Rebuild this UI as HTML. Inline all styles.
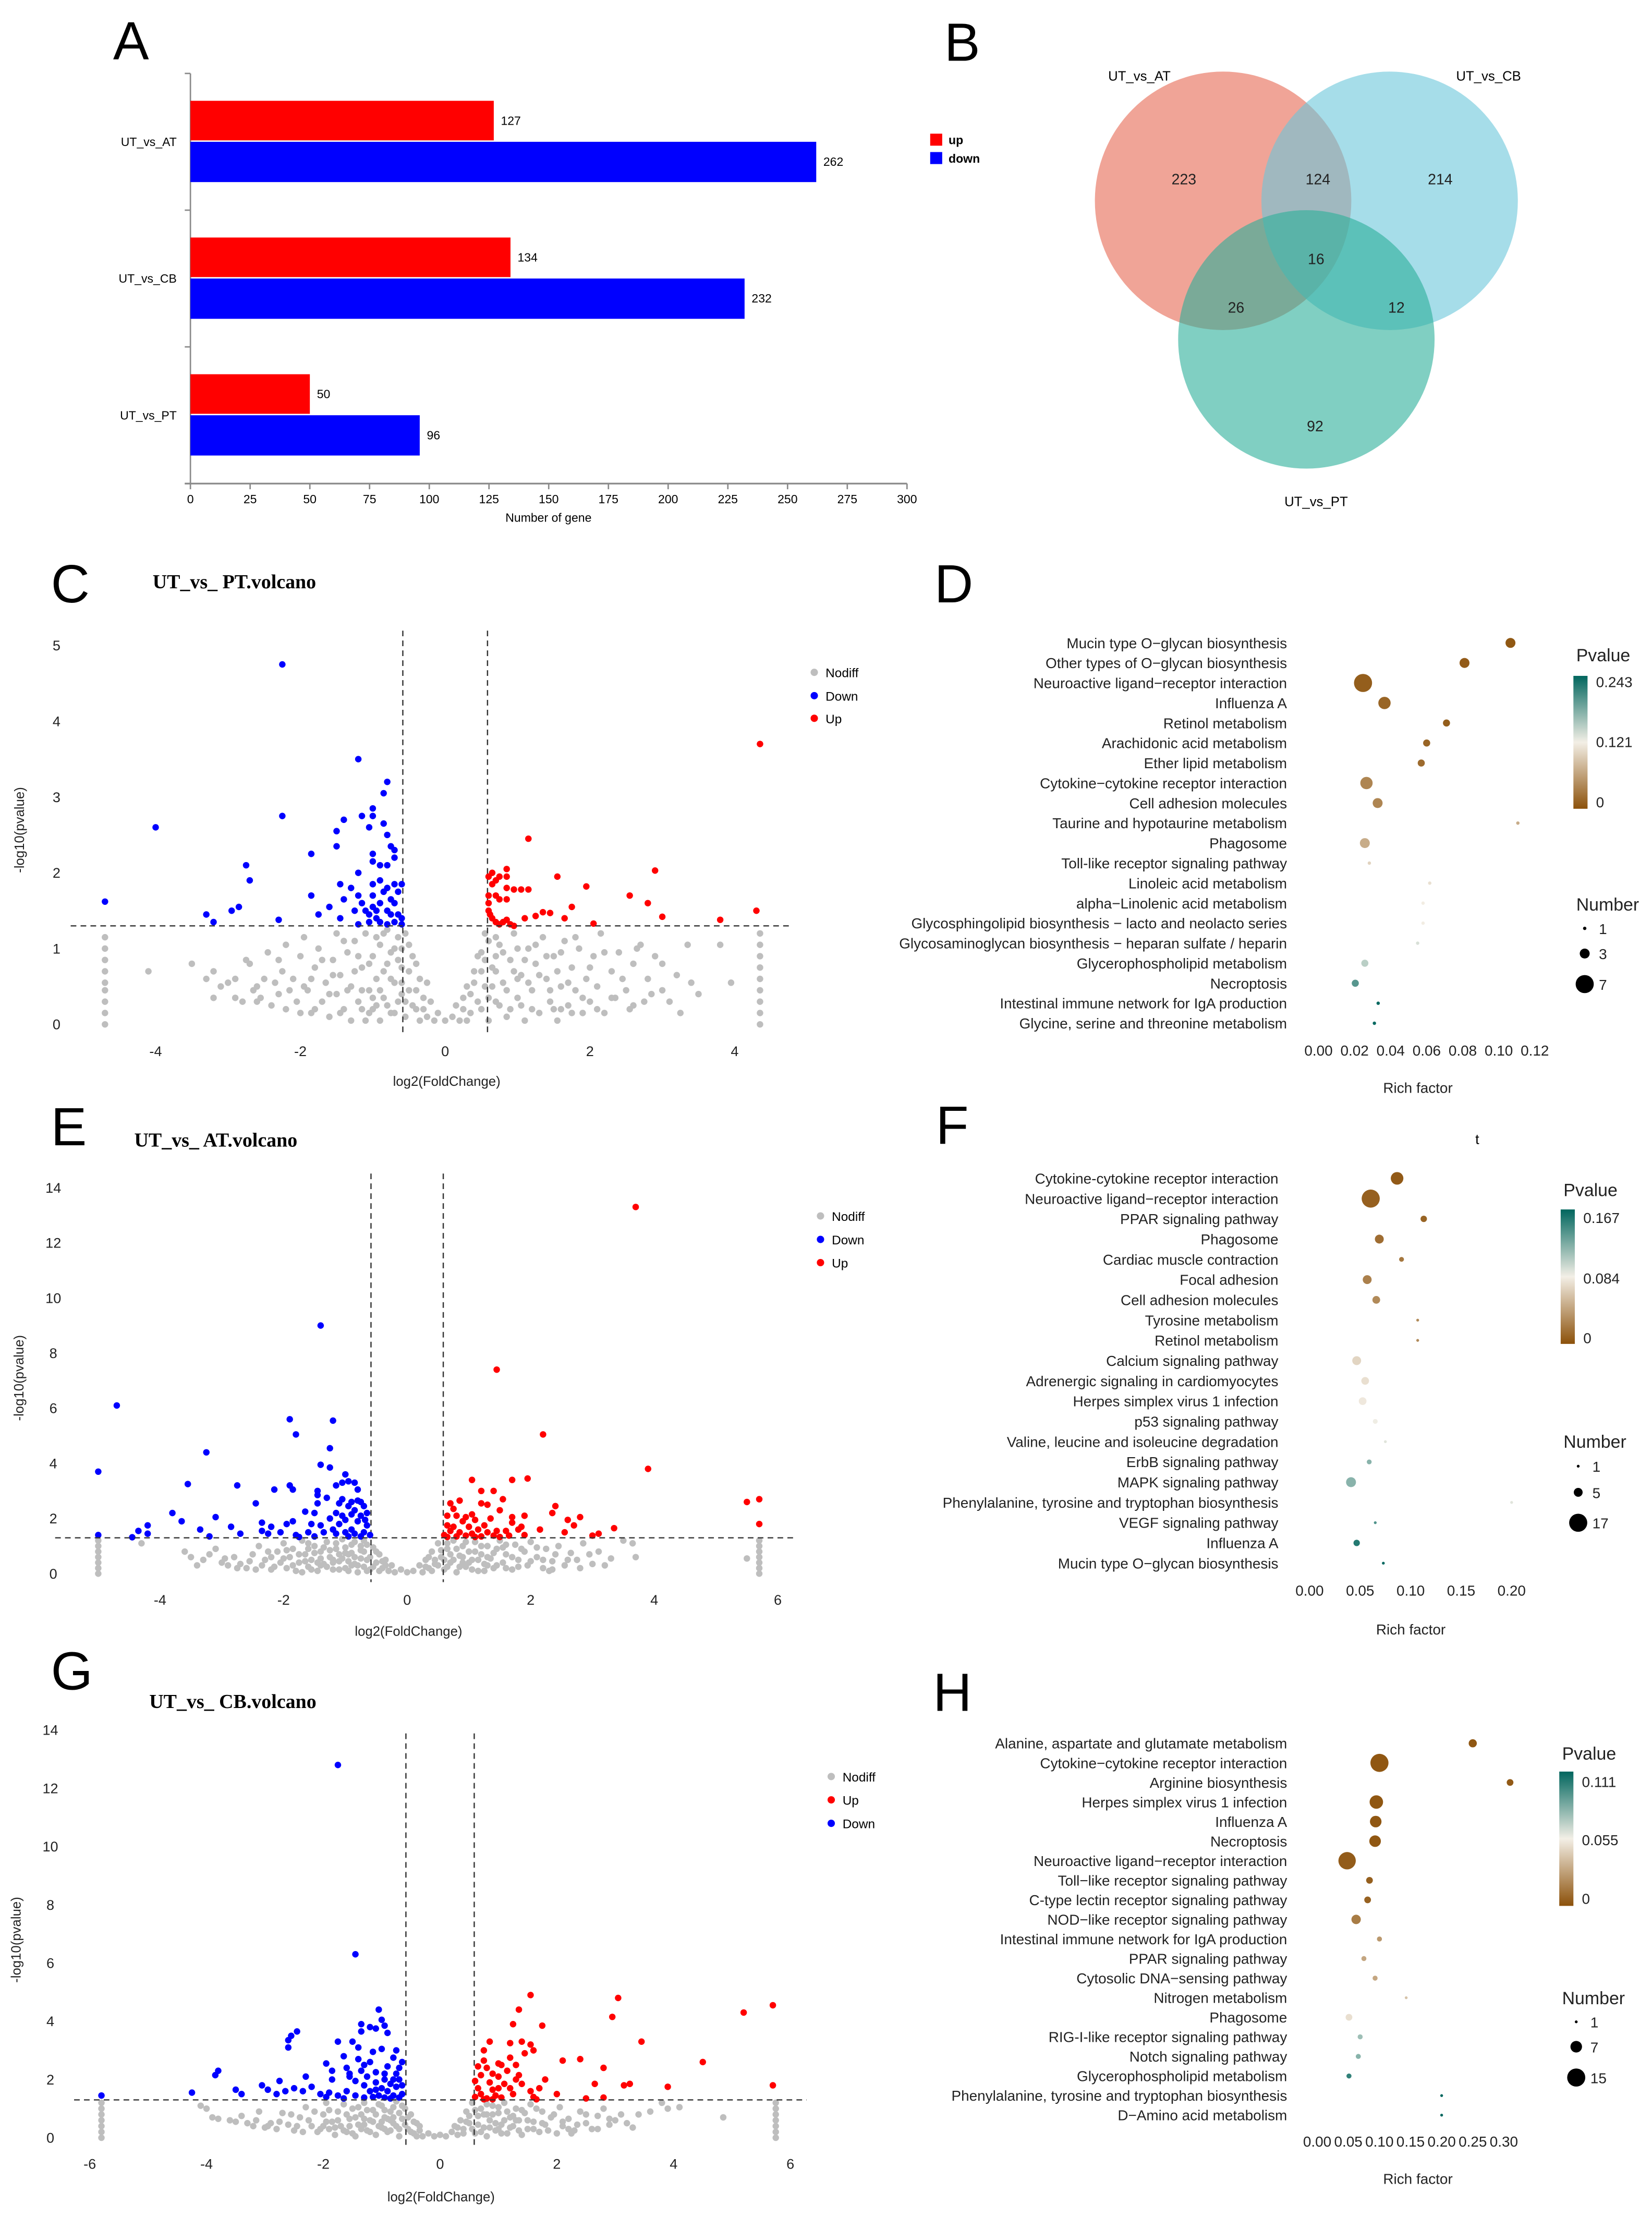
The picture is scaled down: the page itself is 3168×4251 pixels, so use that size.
<!DOCTYPE html>
<html><head><meta charset="utf-8"><title>Figure</title>
<style>
html,body{margin:0;padding:0;background:#fff;}
svg{display:block;}
</style></head>
<body>
<svg id="fig" xmlns="http://www.w3.org/2000/svg" width="3168" height="4251" viewBox="0 0 1168.6 1568" font-family="Liberation Sans, sans-serif">
<defs>
<linearGradient id="pg" x1="0" y1="0" x2="0" y2="1">
<stop offset="0" stop-color="#01665e"/><stop offset="0.5" stop-color="#f3efe6"/><stop offset="1" stop-color="#8c510a"/>
</linearGradient>
</defs>
<rect width="1168.6" height="1568" fill="#fff"/>
</svg>
<script>
// ---------- DATA ----------
const barCats = ['UT_vs_AT','UT_vs_CB','UT_vs_PT'];
const barUp = [127,134,50];
const barDown = [262,232,96];
const barTicks = [0,25,50,75,100,125,150,175,200,225,250,275,300];

const vennLabels = ['UT_vs_AT','UT_vs_CB','UT_vs_PT'];
const vennCounts = [223,124,214,16,26,12,92];

const cGrey = [-3.3,0.6,-3.2,0.7,-3.1,0.5,-3,0.55,-2.9,0.35,-2.8,0.3,-2.75,0.85,-2.7,0.8,-2.6,0.3,-2.5,0.6,-2.45,0.95,-2.4,0.25,-2.3,0.4,-2.3,0.85,-2.2,1.05,-2.2,0.2,-2.1,0.6,-2.05,0.3,-2,0.9,-1.95,1.15,-1.9,0.45,-1.85,0.15,-1.8,0.75,-1.75,1.0,-1.7,0.3,-1.65,0.55,-1.6,0.1,-1.55,0.85,-1.5,1.2,-1.5,0.4,-1.45,0.65,-1.4,0.2,-1.35,0.95,-1.3,0.05,-1.3,0.5,-1.25,1.1,-1.2,0.3,-1.15,0.75,-1.1,0.05,-1.1,1.2,-1.05,0.45,-1,0.9,-1,0.2,-0.95,0.6,-0.9,1.05,-0.9,0.05,-0.85,0.35,-0.8,0.8,-0.8,1.25,-0.75,0.15,-0.7,0.55,-0.7,1.0,-0.65,0.3,-0.6,0.75,-0.55,1.2,-0.55,0.1,-0.5,0.45,-0.45,0.9,-0.4,0.2,-0.35,0.6,-0.3,0.35,-0.25,0.1,-0.2,0.3,-0.15,0.05,-0.1,0.15,0,0.05,0.1,0.1,0.15,0.25,0.2,0.05,0.25,0.35,0.3,0.5,0.35,0.15,0.4,0.7,0.45,0.3,0.5,0.95,0.55,0.5,0.55,1.2,0.6,0.05,0.65,0.75,0.7,0.3,0.75,1.05,0.8,0.55,0.85,0.1,0.9,0.85,0.95,1.2,1,0.35,1.05,0.65,1.1,0.05,1.15,1.0,1.2,0.45,1.25,0.8,1.3,0.15,1.35,1.15,1.4,0.6,1.45,0.3,1.5,0.9,1.55,0.05,1.6,0.5,1.65,1.1,1.7,0.25,1.75,0.75,1.8,0.45,1.85,1.0,1.9,0.15,1.95,0.6,2,0.3,2.05,0.9,2.1,0.5,2.15,1.2,2.2,0.15,2.3,0.7,2.35,0.35,2.4,0.95,2.5,0.45,2.55,0.2,2.6,0.8,2.7,1.05,2.75,0.3,2.8,0.6,2.9,0.9,3,0.45,3.1,0.3,3.2,0.65,3.35,1.05,3.5,0.4,3.8,1.05,3.95,0.55,-4.1,0.7,-3.5,0.8,-3.2,0.35,-1.15,0.2,-0.95,0.25,-0.6,0.4,0.7,0.9,1.0,0.6,1.6,0.2,-1.8,0.2,-2.6,0.5,
-4.7,0,-4.7,0.15,-4.7,0.3,-4.7,0.45,-4.7,0.55,-4.7,0.7,-4.7,0.85,-4.7,1.0,-4.7,1.15,4.35,0,4.35,0.15,4.35,0.3,4.35,0.45,4.35,0.6,4.35,0.75,4.35,0.9,4.35,1.05,4.35,1.2,
-2.9,0.6,-2.65,0.45,-2.55,0.35,-2.35,0.55,-2.25,0.7,-2.15,0.45,-2.0,0.15,-1.95,0.5,-1.85,0.6,-1.7,0.85,-1.6,0.4,-1.55,0.65,-1.45,0.15,-1.4,1.1,-1.35,0.45,-1.25,0.7,-1.2,0.9,-1.15,0.45,-1.05,0.15,-1.05,0.8,-1.0,0.35,-0.95,1.15,-0.9,0.45,-0.85,0.7,-0.85,1.2,-0.8,0.25,-0.75,0.6,-0.75,0.95,-0.7,0.15,-0.65,0.85,-0.65,1.15,-0.6,0.55,-0.6,1.0,-0.55,0.3,-0.5,0.7,-0.5,1.05,-0.45,0.25,-0.4,0.45,-0.4,0.8,-0.35,0.05,-0.3,0.2,-0.25,0.55,0.25,0.2,0.3,0.05,0.35,0.4,0.4,0.55,0.45,0.9,0.5,0.2,0.5,0.7,0.55,0.85,0.6,0.35,0.6,1.1,0.65,0.5,0.7,0.7,0.7,1.15,0.75,0.25,0.8,0.95,0.85,0.45,0.9,0.2,0.95,0.7,1.0,1.0,1.05,0.25,1.1,0.85,1.15,0.55,1.2,0.2,1.25,1.05,1.3,0.65,1.4,0.9,1.45,0.45,1.5,0.2,1.55,0.7,1.6,0.95,1.7,0.55,1.75,0.15,1.8,1.15,1.9,0.35,2.0,0.75,2.1,0.2,2.2,0.95,2.3,0.35,2.45,0.6,2.6,0.25,2.65,1.0,2.85,0.4,3.0,0.8,3.25,0.15,3.4,0.55];
const cDown = [-2.25,4.75,-1.2,3.5,-0.8,3.2,-0.85,3.05,-1,2.85,-1.15,2.75,-1,2.75,-0.85,2.65,-1.4,2.7,-1.05,2.6,-1.5,2.55,-0.8,2.5,-2.25,2.75,-4,2.6,-1.5,2.35,-0.75,2.35,-0.7,2.3,-1.85,2.25,-1,2.25,-0.7,2.2,-1,2.15,-0.9,2.1,-0.8,2.1,-2.75,2.1,-1.2,2,-2.7,1.9,-0.9,1.9,-1,1.85,-0.7,1.85,-0.6,1.85,-1.45,1.85,-1.3,1.8,-0.8,1.8,-1.2,1.7,-1,1.7,-0.85,1.75,-0.65,1.75,-1.85,1.7,-1.4,1.65,-0.75,1.65,-1.15,1.6,-0.9,1.6,-0.7,1.6,-1.6,1.55,-1,1.55,-0.8,1.5,-2.85,1.55,-2.95,1.5,-1.25,1.5,-1.05,1.45,-0.75,1.45,-0.65,1.45,-3.3,1.45,-1.75,1.45,-1.45,1.4,-0.95,1.4,-0.6,1.4,-3.2,1.35,-2.3,1.38,-0.9,1.35,-1.2,1.32,-0.8,1.32,-0.7,1.35,-4.7,1.62,-0.6,1.32,-1.05,1.35,-1.1,1.5,-0.95,1.5];
const cUp = [4.35,3.7,1.15,2.45,0.85,2.05,0.65,2.0,0.6,1.95,0.75,1.95,0.85,1.95,0.7,1.9,2.9,2.03,1.55,1.95,0.65,1.85,0.85,1.8,0.95,1.78,1.05,1.78,1.15,1.78,1.95,1.82,0.6,1.7,0.7,1.7,0.75,1.65,0.85,1.65,2.55,1.7,0.6,1.6,2.8,1.6,1.75,1.55,0.6,1.5,1.35,1.48,1.45,1.47,0.62,1.45,1.25,1.43,0.65,1.4,1.1,1.4,1.65,1.4,3,1.42,0.7,1.35,0.8,1.35,0.85,1.38,0.75,1.32,0.9,1.32,2.05,1.33,3.8,1.38,4.3,1.5,0.95,1.3];

const eGrey = [-4.3,1.1,-3.6,0.8,-3.5,0.6,-3.3,0.5,-3.1,0.9,-3,0.4,-2.9,0.3,-2.8,0.6,-2.7,0.35,-2.6,0.2,-2.5,0.7,-2.4,1.0,-2.35,0.3,-2.3,0.5,-2.2,0.15,-2.1,0.8,-2.05,0.4,-2,1.1,-1.95,0.2,-1.9,0.6,-1.85,0.9,-1.8,0.1,-1.75,0.4,-1.7,1.2,-1.65,0.7,-1.6,0.25,-1.55,0.5,-1.5,1.0,-1.45,0.1,-1.4,0.8,-1.35,0.35,-1.3,1.15,-1.25,0.6,-1.2,0.15,-1.15,0.9,-1.1,0.45,-1.05,1.25,-1,0.2,-0.95,0.7,-0.9,1.05,-0.85,0.35,-0.8,0.05,-0.75,0.85,-0.7,1.2,-0.65,0.5,-0.6,0.15,-0.55,0.95,-0.5,0.4,-0.45,0.7,-0.4,0.2,-0.35,0.5,-0.3,0.1,-0.25,0.3,-0.2,0.05,-0.1,0.15,0,0.05,0.1,0.1,0.2,0.3,0.25,0.05,0.3,0.5,0.35,0.2,0.4,0.8,0.45,0.35,0.5,1.1,0.55,0.6,0.6,0.15,0.65,0.9,0.7,0.4,0.75,1.2,0.8,0.05,0.85,0.65,0.9,1.0,0.95,0.25,1,0.8,1.05,0.5,1.1,1.15,1.15,0.1,1.2,0.7,1.25,0.35,1.3,1.0,1.35,0.55,1.4,0.2,1.45,0.9,1.5,1.2,1.55,0.4,1.6,0.7,1.7,0.15,1.75,1.05,1.8,0.5,1.9,0.8,1.95,0.3,2,1.15,2.1,0.6,2.2,0.2,2.25,0.9,2.35,0.45,2.45,1.0,2.55,0.3,2.65,0.75,2.75,0.5,2.85,1.1,3,0.35,3.1,0.8,3.3,0.55,3.5,1.2,3.65,1.1,3.7,0.6,5.5,0.55,-1.6,0.9,-1.2,0.5,-0.9,0.3,-1.0,0.75,0.9,0.4,1.3,0.3,1.6,1.05,2.3,0.1,-2.2,0.6,-1.4,0.3,
-5,0,-5,0.2,-5,0.4,-5,0.6,-5,0.8,-5,1.0,-5,1.2,5.7,0,5.7,0.2,5.7,0.4,5.7,0.6,5.7,0.8,5.7,1.0,5.7,1.2,
-3.4,0.3,-3.2,0.7,-2.95,0.55,-2.75,0.2,-2.55,0.45,-2.45,0.15,-2.25,0.8,-2.15,0.25,-2.0,0.55,-1.95,0.85,-1.85,0.3,-1.75,0.7,-1.7,0.05,-1.65,0.45,-1.6,1.1,-1.55,0.15,-1.5,0.75,-1.45,0.4,-1.4,0.55,-1.35,0.95,-1.3,0.25,-1.25,0.85,-1.2,0.4,-1.15,1.1,-1.1,0.15,-1.1,0.7,-1.05,0.55,-1.0,0.95,-0.95,0.1,-0.95,0.45,-0.9,0.75,-0.85,1.15,-0.85,0.6,-0.8,0.3,-0.75,0.55,-0.75,1.0,-0.7,0.25,-0.7,0.8,-0.65,0.1,-0.65,1.05,-0.6,0.6,-0.55,0.25,-0.5,0.8,-0.45,0.1,-0.4,0.45,-0.35,0.3,0.3,0.25,0.35,0.6,0.4,0.1,0.45,0.5,0.5,0.3,0.55,0.85,0.6,0.5,0.65,0.25,0.65,1.1,0.7,0.7,0.75,0.5,0.8,0.9,0.85,0.25,0.9,0.6,0.95,1.15,1.0,0.4,1.05,0.15,1.1,0.8,1.15,0.5,1.2,1.0,1.25,0.1,1.3,0.6,1.4,0.75,1.45,0.3,1.55,0.95,1.6,0.2,1.7,0.6,1.8,0.25,1.85,0.9,2.0,0.45,2.1,0.95,2.2,0.5,2.35,0.15,2.4,0.7,2.6,0.5,2.8,0.2,2.95,0.7,3.2,0.3];
const eDown = [-1.4,9,-4.7,6.1,-1.9,5.6,-1.2,5.55,-1.8,5.05,-1.25,4.55,-3.25,4.4,-1.4,3.95,-1.25,3.85,-5,3.7,-1,3.6,-0.95,3.35,-1.05,3.3,-0.85,3.3,-1.15,3.2,-3.55,3.25,-2.75,3.2,-1.9,3.2,-1.85,3.05,-2.15,3.05,-0.8,3.05,-1.45,3,-1.45,2.85,-1.3,2.75,-1.05,2.7,-0.8,2.65,-0.75,2.6,-1.1,2.55,-0.95,2.45,-1.45,2.55,-2.45,2.55,-0.7,2.45,-0.85,2.3,-1.65,2.25,-1.5,2.2,-3.8,2.2,-1.15,2.2,-0.9,2.15,-0.75,2.1,-3.1,2.05,-1.25,2,-1.85,1.9,-3.65,1.9,-1.0,1.95,-0.8,1.9,-2.35,1.85,-1.95,1.8,-1.55,1.8,-1.4,1.75,-1.1,1.8,-0.65,1.75,-4.2,1.75,-2.85,1.7,-2.2,1.7,-3.35,1.6,-1.2,1.6,-0.9,1.6,-4.35,1.55,-2.05,1.5,-1.6,1.5,-1.35,1.5,-1,1.5,-0.7,1.5,-2.25,1.45,-2.7,1.45,-4.2,1.45,-1.8,1.4,-1.15,1.45,-0.85,1.45,-5,1.4,-3.2,1.35,-4.45,1.32,-1.75,1.33,-1.5,1.35,-0.95,1.35,-0.75,1.35,-0.6,1.4,-0.65,2.2,-0.68,1.95,-1.05,2.1,-0.9,2.6,-2.35,1.55];
const eUp = [3.7,13.3,1.45,7.4,2.2,5.05,3.9,3.8,1.95,3.45,1.7,3.4,1.05,3.4,1.4,3,1.2,3,5.7,2.7,5.5,2.6,1.55,2.7,0.85,2.65,0.7,2.55,1.2,2.55,1.3,2.5,2.4,2.45,0.75,2.35,1.5,2.3,0.65,2.1,0.8,2.1,0.95,2.05,1.05,2.15,0.9,1.9,1.1,1.95,1.35,2.0,1.7,2.05,1.9,2.1,2.35,2.2,2.8,2.05,2.6,1.95,1.7,1.85,5.7,1.8,0.65,1.75,0.75,1.7,1.0,1.7,1.25,1.75,1.85,1.7,2.7,1.75,1.15,1.6,1.45,1.55,2.15,1.6,3.35,1.65,0.7,1.55,0.85,1.5,1.05,1.45,1.3,1.5,1.6,1.55,1.8,1.6,2.55,1.5,3.1,1.45,0.6,1.4,0.8,1.35,0.95,1.38,1.2,1.35,1.4,1.38,1.65,1.38,1.9,1.4,3.0,1.38,1.5,1.33,0.65,1.33,1.1,1.33];

const gGrey = [-4.1,1.1,-4,1.0,-3.9,0.7,-3.8,0.65,-3.6,0.6,-3.5,0.55,-3.3,0.5,-3.2,0.4,-3.1,0.9,-3,0.35,-2.9,0.5,-2.8,0.3,-2.7,0.85,-2.6,0.45,-2.5,0.25,-2.4,0.7,-2.3,1.05,-2.2,0.4,-2.1,0.2,-2,0.8,-1.95,1.2,-1.9,0.3,-1.85,0.55,-1.8,0.1,-1.75,0.9,-1.7,0.4,-1.65,1.15,-1.6,0.2,-1.55,0.65,-1.5,1.0,-1.45,0.05,-1.4,0.45,-1.35,0.8,-1.3,1.2,-1.25,0.25,-1.2,0.6,-1.15,0.95,-1.1,0.1,-1.05,0.4,-1,1.1,-0.95,0.7,-0.9,0.2,-0.85,0.9,-0.8,0.5,-0.75,1.25,-0.7,0.05,-0.65,0.65,-0.6,1.0,-0.55,0.3,-0.5,0.8,-0.45,0.15,-0.4,0.5,-0.35,0.25,-0.3,0.05,-0.2,0.15,-0.1,0.05,0,0.1,0.1,0.05,0.2,0.2,0.25,0.4,0.3,0.1,0.35,0.6,0.4,0.3,0.45,0.9,0.5,0.5,0.55,1.2,0.6,0.15,0.65,0.75,0.7,1.0,0.75,0.35,0.8,0.05,0.85,0.6,0.9,1.1,0.95,0.25,1,0.85,1.05,0.45,1.1,1.2,1.15,0.15,1.2,0.7,1.25,0.4,1.3,1.0,1.35,0.6,1.4,0.1,1.45,0.85,1.5,0.3,1.55,1.15,1.6,0.55,1.7,0.2,1.75,0.9,1.8,0.45,1.9,0.7,2,0.15,2.05,1.05,2.1,0.4,2.2,0.65,2.3,0.25,2.4,0.9,2.5,0.5,2.6,0.3,2.7,0.75,2.8,1.0,2.9,0.45,3,0.6,3.3,0.35,3.4,0.8,3.6,0.9,3.8,1.2,3.9,1.0,4.1,1.05,4.85,0.7,-1.3,0.45,-1.0,0.35,-0.85,0.6,-2.0,0.4,1.0,0.3,1.3,0.6,0.8,0.8,2.2,0.3,
-5.8,0,-5.8,0.2,-5.8,0.4,-5.8,0.6,-5.8,0.8,-5.8,1.0,-5.8,1.2,5.75,0,5.75,0.2,5.75,0.4,5.75,0.6,5.75,0.8,5.75,1.0,5.75,1.2,
-3.4,0.75,-3.15,0.6,-2.95,0.4,-2.75,0.55,-2.55,0.8,-2.45,0.4,-2.35,0.2,-2.25,0.6,-2.15,0.9,-2.05,0.3,-1.95,0.55,-1.9,0.95,-1.8,0.35,-1.75,0.6,-1.65,0.25,-1.6,0.8,-1.55,0.4,-1.5,0.15,-1.45,0.7,-1.4,1.05,-1.35,0.3,-1.3,0.65,-1.25,0.95,-1.2,0.2,-1.15,0.55,-1.1,0.8,-1.05,1.15,-1.0,0.55,-0.95,0.3,-0.95,0.95,-0.9,0.65,-0.85,0.25,-0.8,1.05,-0.8,0.7,-0.75,0.4,-0.7,0.85,-0.7,0.3,-0.65,1.1,-0.6,0.45,-0.55,0.7,-0.5,0.2,-0.45,0.55,-0.4,0.05,-0.35,0.4,0.3,0.35,0.4,0.15,0.45,0.55,0.5,0.75,0.55,0.3,0.6,0.95,0.65,0.45,0.7,0.2,0.75,0.8,0.8,1.15,0.85,0.35,0.9,0.8,0.95,0.5,1.0,1.05,1.05,0.15,1.1,0.6,1.15,0.9,1.2,0.35,1.25,0.75,1.35,0.25,1.4,0.95,1.5,0.6,1.6,0.3,1.65,1.0,1.75,0.5,1.85,0.25,1.95,0.8,2.1,0.55,2.25,0.15,2.35,0.45,2.5,0.8,2.7,0.3,2.9,0.65,3.1,0.8,3.2,0.5];
const gDown = [-1.75,12.8,-1.45,6.3,-1.05,4.4,-1,4.05,-0.95,3.85,-1.35,3.9,-1.2,3.8,-1.1,3.75,-0.9,3.6,-1.35,3.65,-2.45,3.65,-2.55,3.5,-2.6,3.35,-2.6,3.1,-1.75,3.3,-1.5,3.3,-1.4,3.1,-1.0,3.05,-0.75,3.0,-1.15,2.95,-0.8,2.75,-1.65,2.8,-1.4,2.7,-1.2,2.6,-0.65,2.6,-1.95,2.55,-0.9,2.45,-1.6,2.4,-1.35,2.3,-1.85,2.3,-1.1,2.25,-0.75,2.2,-3.8,2.3,-3.85,2.15,-1.55,2.1,-1.25,2.1,-0.95,2.0,-0.7,2.0,-2.75,1.95,-1.85,2.0,-2.3,2.1,-1.45,1.95,-1.1,1.9,-0.85,1.85,-2.2,1.75,-3.05,1.8,-2.95,1.65,-2.5,1.7,-1.3,1.8,-1.0,1.7,-0.75,1.75,-0.65,1.8,-2.65,1.6,-2.35,1.6,-1.9,1.55,-1.6,1.6,-1.2,1.6,-0.9,1.6,-3.5,1.65,-3.4,1.5,-4.25,1.55,-2.8,1.5,-2.05,1.5,-1.75,1.45,-1.45,1.45,-1.05,1.45,-0.8,1.45,-0.65,1.5,-5.8,1.45,-1.95,1.4,-1.65,1.35,-1.3,1.38,-0.95,1.38,-0.7,1.38,-1.15,1.4,-0.85,1.35,-1.55,2.2,-1.3,2.5,-0.95,2.2,-0.7,2.4,-1.1,1.65,-0.8,2.0];
const gUp = [1.55,4.9,3.05,4.8,5.7,4.55,5.2,4.3,1.35,4.4,2.95,4.15,1.25,3.9,1.75,3.85,0.85,3.3,1.2,3.25,1.4,3.3,1.55,3.2,3.45,3.3,0.75,3.0,1.6,3.0,1.45,2.9,1.2,2.75,1.0,2.55,0.75,2.65,2.1,2.65,2.4,2.7,4.5,2.6,0.65,2.45,0.8,2.4,1.05,2.5,1.3,2.5,0.9,2.2,1.15,2.3,2.8,2.4,0.7,2.15,1.0,2.1,1.35,2.15,1.8,2.0,0.6,1.95,0.85,1.9,1.1,1.85,1.4,1.85,1.7,1.7,2.65,1.85,3.15,1.8,3.25,1.85,3.9,1.75,5.7,1.8,0.65,1.7,0.9,1.65,1.2,1.7,1.55,1.6,0.7,1.5,0.95,1.45,1.25,1.5,2.0,1.5,0.6,1.4,0.8,1.35,1.05,1.38,1.6,1.4,2.5,1.35,2.8,1.38,0.75,1.32,0.9,1.32,1.65,1.32,1.0,1.7,1.3,2.0];

const dTerms = ['Mucin type O\u2212glycan biosynthesis','Other types of O\u2212glycan biosynthesis','Neuroactive ligand\u2212receptor interaction','Influenza A','Retinol metabolism','Arachidonic acid metabolism','Ether lipid metabolism','Cytokine\u2212cytokine receptor interaction','Cell adhesion molecules','Taurine and hypotaurine metabolism','Phagosome','Toll-like receptor signaling pathway','Linoleic acid metabolism','alpha\u2212Linolenic acid metabolism','Glycosphingolipid biosynthesis \u2212 lacto and neolacto series','Glycosaminoglycan biosynthesis \u2212 heparan sulfate / heparin','Glycerophospholipid metabolism','Necroptosis','Intestinal immune network for IgA production','Glycine, serine and threonine metabolism'];
const dRich = [0.1065,0.081,0.0247,0.0366,0.071,0.060,0.057,0.0266,0.0328,0.1106,0.0257,0.0282,0.0617,0.058,0.058,0.055,0.0257,0.0204,0.0331,0.031];
const dCount = [3,3,7,4,2,2,2,4,3,1,3,1,1,1,1,1,2,2,1,1];
const dP = [0.005,0.008,0.01,0.015,0.01,0.015,0.02,0.04,0.04,0.07,0.07,0.1,0.11,0.12,0.12,0.135,0.15,0.2,0.24,0.24];
const dTicks = [0,0.02,0.04,0.06,0.08,0.1,0.12];
const dTickLabels = ['0.00','0.02','0.04','0.06','0.08','0.10','0.12'];

const fTerms = ['Cytokine-cytokine receptor interaction','Neuroactive ligand\u2212receptor interaction','PPAR signaling pathway','Phagosome','Cardiac muscle contraction','Focal adhesion','Cell adhesion molecules','Tyrosine metabolism','Retinol metabolism','Calcium signaling pathway','Adrenergic signaling in cardiomyocytes','Herpes simplex virus 1 infection','p53 signaling pathway','Valine, leucine and isoleucine degradation','ErbB signaling pathway','MAPK signaling pathway','Phenylalanine, tyrosine and tryptophan biosynthesis','VEGF signaling pathway','Influenza A','Mucin type O\u2212glycan biosynthesis'];
const fRich = [0.0866,0.0605,0.113,0.069,0.091,0.057,0.066,0.107,0.107,0.0466,0.055,0.0525,0.065,0.075,0.059,0.041,0.2,0.065,0.0466,0.073];
const fCount = [9,17,3,5,2,5,4,1,1,5,4,4,2,1,2,6,1,1,3,1];
const fP = [0.005,0.008,0.01,0.015,0.02,0.025,0.03,0.03,0.03,0.07,0.075,0.08,0.085,0.09,0.12,0.12,0.09,0.14,0.155,0.165];
const fTicks = [0,0.05,0.1,0.15,0.2];
const fTickLabels = ['0.00','0.05','0.10','0.15','0.20'];

const hTerms = ['Alanine, aspartate and glutamate metabolism','Cytokine\u2212cytokine receptor interaction','Arginine biosynthesis','Herpes simplex virus 1 infection','Influenza A','Necroptosis','Neuroactive ligand\u2212receptor interaction','Toll\u2212like receptor signaling pathway','C-type lectin receptor signaling pathway','NOD\u2212like receptor signaling pathway','Intestinal immune network for IgA production','PPAR signaling pathway','Cytosolic DNA\u2212sensing pathway','Nitrogen metabolism','Phagosome','RIG-I-like receptor signaling pathway','Notch signaling pathway','Glycerophospholipid metabolism','Phenylalanine, tyrosine and tryptophan biosynthesis','D\u2212Amino acid metabolism'];
const hRich = [0.25,0.1,0.31,0.095,0.094,0.093,0.048,0.084,0.081,0.0625,0.1,0.075,0.093,0.143,0.051,0.069,0.066,0.051,0.2,0.2];
const hCount = [4,15,3,9,7,7,14,3,3,5,2,2,2,1,3,2,2,2,1,1];
const hP = [0.002,0.002,0.003,0.002,0.002,0.002,0.004,0.005,0.006,0.015,0.025,0.03,0.03,0.04,0.05,0.075,0.08,0.1,0.111,0.111];
const hTicks = [0,0.05,0.1,0.15,0.2,0.25,0.3];
const hTickLabels = ['0.00','0.05','0.10','0.15','0.20','0.25','0.30'];

// ---------- HELPERS ----------
const SVGNS = 'http://www.w3.org/2000/svg';
const root = document.getElementById('fig');
function mk(tag, attrs, name, parent){
  const el = document.createElementNS(SVGNS, tag);
  for (const k in attrs) el.setAttribute(k, attrs[k]);
  
  
  (parent || root).appendChild(el);
  return el;
}
const SANS = "'Liberation Sans', sans-serif";
const SERIF = "'Liberation Serif', serif";
function txt(x, y, s, size, name, opts){
  opts = opts || {};
  const t = mk('text', {x:x, y:y, 'font-size':size, fill:opts.fill||'#000', 'text-anchor':opts.anchor||'start', 'font-weight':opts.weight||'normal'}, name, opts.parent);
  t.style.fontFamily = opts.font || SANS;
  if (opts.transform) t.setAttribute('transform', opts.transform);
  t.textContent = s;
  return t;
}
function panelLetter(x, y, s){ txt(x, y, s, 38, 'panel-letter-' + s.toLowerCase()); }

// ---------- PANEL A ----------
(function(){
  const g = mk('g', {}, 'bar-chart-panel-a');
  const x0 = 134.7, kx = (641.6 - 134.7) / 300;
  const X = v => x0 + v * kx;
  const top = 51.9, bottom = 342, band = (bottom - top) / barCats.length;
  mk('line', {x1:x0, y1:top, x2:x0, y2:bottom, stroke:'#8a8a8a', 'stroke-width':1}, 'y-axis-line', g);
  mk('line', {x1:x0 - 4, y1:bottom, x2:X(300), y2:bottom, stroke:'#8a8a8a', 'stroke-width':1.2}, 'x-axis-line', g);
  for (let i = 0; i <= barCats.length; i++) {
    mk('line', {x1:x0 - 4, y1:top + i * band, x2:x0, y2:top + i * band, stroke:'#8a8a8a', 'stroke-width':1}, 'y-tick', g);
  }
  barCats.forEach((c, i) => {
    const cy = top + (i + 0.5) * band;
    mk('rect', {x:x0, y:cy - 29, width:X(barUp[i]) - x0, height:28, fill:'#ff0000'}, 'bar-up-' + c, g);
    mk('rect', {x:x0, y:cy, width:X(barDown[i]) - x0, height:28.5, fill:'#0000ff'}, 'bar-down-' + c, g);
    txt(X(barUp[i]) + 5, cy - 12, String(barUp[i]), 8.5, 'value-label-up', {parent:g});
    txt(X(barDown[i]) + 5, cy + 17, String(barDown[i]), 8.5, 'value-label-down', {parent:g});
    txt(125, cy + 3, c, 8.5, 'category-label', {anchor:'end', parent:g});
  });
  barTicks.forEach(v => {
    mk('line', {x1:X(v), y1:bottom, x2:X(v), y2:bottom + 4, stroke:'#8a8a8a', 'stroke-width':1}, 'x-tick', g);
    txt(X(v), 356, String(v), 8.5, 'x-tick-label', {anchor:'middle', parent:g});
  });
  txt(388, 369, 'Number of gene', 8.5, 'x-axis-title', {anchor:'middle', parent:g});
  mk('rect', {x:658, y:94.5, width:8.5, height:8.5, fill:'#ff0000'}, 'legend-swatch-up', g);
  txt(671, 102, 'up', 8.5, 'legend-label-up', {parent:g, weight:'bold'});
  mk('rect', {x:658, y:107.5, width:8.5, height:8.5, fill:'#0000ff'}, 'legend-swatch-down', g);
  txt(671, 115, 'down', 8.5, 'legend-label-down', {parent:g, weight:'bold'});
})();
panelLetter(80, 42, 'A');

// ---------- PANEL B ----------
(function(){
  const g = mk('g', {}, 'venn-diagram-panel-b');
  mk('ellipse', {cx:865.2, cy:142, rx:90.7, ry:91.4, fill:'rgb(230,103,82)', 'fill-opacity':0.6}, 'venn-circle-at', g);
  mk('ellipse', {cx:983, cy:142, rx:90.7, ry:91.4, fill:'rgb(107,198,218)', 'fill-opacity':0.6}, 'venn-circle-cb', g);
  mk('ellipse', {cx:924.1, cy:240, rx:90.7, ry:91.4, fill:'rgb(43,175,153)', 'fill-opacity':0.6}, 'venn-circle-pt', g);
  txt(806, 57, vennLabels[0], 9.5, 'venn-label-at', {anchor:'middle', parent:g});
  txt(1053, 57, vennLabels[1], 9.5, 'venn-label-cb', {anchor:'middle', parent:g});
  txt(931, 358, vennLabels[2], 9.5, 'venn-label-pt', {anchor:'middle', parent:g});
  const pos = [[837.5,126.3],[932.3,126.3],[1018.8,126.3],[931,182.8],[874.4,217.1],[987.8,217.1],[930.3,301]];
  vennCounts.forEach((v, i) => txt(pos[i][0], pos[i][1] + 4, String(v), 10.5, 'venn-count', {anchor:'middle', parent:g, fill:'#222'}));
})();
panelLetter(668, 43, 'B');

// ---------- VOLCANO ----------
function volcano(cfg, grey, down, up){
  const g = mk('g', {}, cfg.name);
  const X = v => cfg.x0 + v * cfg.kx;
  const Y = v => cfg.y0 - v * cfg.ky;
  cfg.xt.forEach(v => txt(X(v), cfg.xtY, String(v), 10, 'x-tick-label', {anchor:'middle', parent:g, fill:'#222'}));
  cfg.yt.forEach(v => txt(cfg.ytX, Y(v) + 3.5, String(v), 10, 'y-tick-label', {anchor:'middle', parent:g, fill:'#222'}));
  txt(cfg.xLabX, cfg.xLabY, 'log2(FoldChange)', 9.5, 'x-axis-title', {anchor:'middle', parent:g, fill:'#222'});
  txt(0, 0, '-log10(pvalue)', 9.5, 'y-axis-title', {anchor:'middle', parent:g, fill:'#222', transform:'translate(' + (cfg.yLabX + 3) + ',' + cfg.yLabY + ') rotate(-90)'});
  const r = 2.3;
  for (let i = 0; i < grey.length; i += 2) mk('circle', {cx:X(grey[i]), cy:Y(grey[i+1]), r:r, fill:'#bebebe'}, 'point-nodiff', g);
  mk('line', {x1:X(-0.585), y1:cfg.vTop, x2:X(-0.585), y2:cfg.vBot, stroke:'#333', 'stroke-width':0.9, 'stroke-dasharray':'4,3'}, 'threshold-line-left', g);
  mk('line', {x1:X(0.585), y1:cfg.vTop, x2:X(0.585), y2:cfg.vBot, stroke:'#333', 'stroke-width':0.9, 'stroke-dasharray':'4,3'}, 'threshold-line-right', g);
  for (let i = 0; i < down.length; i += 2) mk('circle', {cx:X(down[i]), cy:Y(down[i+1]), r:r, fill:'#0000ff'}, 'point-down', g);
  for (let i = 0; i < up.length; i += 2) mk('circle', {cx:X(up[i]), cy:Y(up[i+1]), r:r, fill:'#ff0000'}, 'point-up', g);
  mk('line', {x1:cfg.hL, y1:Y(1.3), x2:cfg.hR, y2:Y(1.3), stroke:'#333', 'stroke-width':0.9, 'stroke-dasharray':'4,3'}, 'threshold-line-pvalue', g);
  cfg.legend.forEach((L, i) => {
    mk('circle', {cx:cfg.legX, cy:cfg.legY[i], r:2.6, fill:L[1]}, 'legend-dot-' + L[0].toLowerCase(), g);
    txt(cfg.legX + 8, cfg.legY[i] + 3.5, L[0], 9, 'legend-label-' + L[0].toLowerCase(), {parent:g});
  });
  txt(cfg.titleX, cfg.titleY, cfg.title, 14, 'chart-title', {parent:g, font:SERIF, weight:'bold'});
}
volcano({name:'volcano-panel-c', x0:314.9, kx:51.2, y0:724.5, ky:53.6, xt:[-4,-2,0,2,4], yt:[0,1,2,3,4,5], xtY:747, ytX:40, xLabX:316, xLabY:768, yLabX:14, yLabY:587, vTop:446, vBot:732, hL:50, hR:560, legX:576, legY:[475.5,492,508], legend:[['Nodiff','#bebebe'],['Down','#0000ff'],['Up','#ff0000']], title:'UT_vs_ PT.volcano', titleX:108, titleY:416}, cGrey, cDown, cUp);
panelLetter(36, 426, 'C');
volcano({name:'volcano-panel-e', x0:288, kx:43.7, y0:1113, ky:19.5, xt:[-4,-2,0,2,4,6], yt:[0,2,4,6,8,10,12,14], xtY:1135, ytX:37.7, xLabX:289, xLabY:1157, yLabX:13.6, yLabY:974.6, vTop:830, vBot:1119, hL:39, hR:563.6, legX:580.4, legY:[860,876.6,893], legend:[['Nodiff','#bebebe'],['Down','#0000ff'],['Up','#ff0000']], title:'UT_vs_ AT.volcano', titleX:95, titleY:811}, eGrey, eDown, eUp);
panelLetter(36, 810, 'E');
volcano({name:'volcano-panel-g', x0:311.3, kx:41.3, y0:1512, ky:20.6, xt:[-6,-4,-2,0,2,4,6], yt:[0,2,4,6,8,10,12,14], xtY:1534, ytX:35.6, xLabX:312, xLabY:1557, yLabX:11.6, yLabY:1372, vTop:1226, vBot:1519, hL:52.4, hR:570.6, legX:588, legY:[1256.5,1273,1289.6], legend:[['Nodiff','#bebebe'],['Up','#ff0000'],['Down','#0000ff']], title:'UT_vs_ CB.volcano', titleX:105.6, titleY:1208}, gGrey, gDown, gUp);
panelLetter(36, 1195, 'G');

// ---------- GO DOT PLOTS ----------
function hexLerp(a, b, t){
  const pa = [1,3,5].map(i => parseInt(a.substr(i,2),16));
  const pb = [1,3,5].map(i => parseInt(b.substr(i,2),16));
  return 'rgb(' + pa.map((v,i) => Math.round(v + (pb[i]-v)*t)).join(',') + ')';
}
function pColor(p, max){
  const t = Math.min(1, p / max);
  return t < 0.5 ? hexLerp('#8c510a', '#f3efe6', t / 0.5) : hexLerp('#f3efe6', '#01665e', (t - 0.5) / 0.5);
}
function goPlot(cfg, terms, rich, count, pv, ticks, tickLabels){
  const g = mk('g', {}, cfg.name);
  const X = v => cfg.x0 + v * cfg.kx;
  const step = (cfg.rowLast - cfg.rowFirst) / (terms.length - 1);
  const R = n => cfg.rmin + (cfg.rmax - cfg.rmin) * (Math.sqrt(n) - 1) / (Math.sqrt(cfg.nmax) - 1);
  terms.forEach((t, i) => {
    const y = cfg.rowFirst + i * step;
    txt(cfg.labelX, y + 3.7, t, 10.3, 'term-label', {anchor:'end', parent:g, fill:'#222'});
    mk('circle', {cx:X(rich[i]), cy:y, r:R(count[i]), fill:pColor(pv[i], cfg.pmax)}, 'dot-' + i, g);
  });
  ticks.forEach((v, i) => txt(X(v), cfg.tickY + 3.5, tickLabels[i], 10.3, 'x-tick-label', {anchor:'middle', parent:g, fill:'#222'}));
  txt(cfg.richX, cfg.richY + 4, 'Rich factor', 10.3, 'x-axis-title', {anchor:'middle', parent:g, fill:'#222'});
  txt(cfg.titleX, cfg.titleY + 5, cfg.title, 14, 'chart-title', {parent:g, font:SERIF, weight:'bold'});
  txt(cfg.cbX + 2, cfg.pvY + 5, 'Pvalue', 12.5, 'colorbar-title', {parent:g, fill:'#222'});
  mk('rect', {x:cfg.cbX, y:cfg.cbTop, width:10, height:cfg.cbBot - cfg.cbTop, fill:'url(#pg)'}, 'colorbar', g);
  cfg.cbLabels.forEach((L, i) => {
    txt(cfg.cbX + 16, cfg.cbLabelY[i] + 4, L, 10.3, 'colorbar-label', {parent:g, fill:'#222'});
  });
  txt(cfg.cbX + 2, cfg.numY + 5, 'Number', 12.5, 'size-legend-title', {parent:g, fill:'#222'});
  cfg.sizeLegend.forEach((n, i) => {
    mk('circle', {cx:cfg.dotX, cy:cfg.dotY[i], r:R(n), fill:'#000'}, 'size-legend-dot', g);
    txt(cfg.dotX + 10, cfg.dotY[i] + 4, String(n), 10.3, 'size-legend-label', {parent:g, fill:'#222'});
  });
}
goPlot({name:'go-plot-panel-d', x0:932.7, kx:1275, rowFirst:454.7, rowLast:723.7, labelX:910.4, tickY:743, richX:1003, richY:769, titleX:763.6, titleY:425, rmin:1.2, rmax:6.4, nmax:7, pmax:0.243, cbX:1113, cbTop:478, cbBot:572, pvY:462.6, cbLabels:['0.243','0.121','0'], cbLabelY:[482,524.4,567], numY:639, dotX:1121, dotY:[656.6,674.4,696], sizeLegend:[1,3,7]}, dTerms, dRich, dCount, dP, dTicks, dTickLabels);
panelLetter(661, 426, 'D');
goPlot({name:'go-plot-panel-f', x0:926.4, kx:714.5, rowFirst:833.4, rowLast:1105.6, labelX:904.3, tickY:1125, richX:998, richY:1152, titleX:757, titleY:805, rmin:1.0, rmax:6.4, nmax:17, pmax:0.167, cbX:1104, cbTop:855.4, cbBot:950.5, pvY:841, cbLabels:['0.167','0.084','0'], cbLabelY:[861,903.7,946], numY:1019, dotX:1116.4, dotY:[1037,1055.5,1077], sizeLegend:[1,5,17]}, fTerms, fRich, fCount, fP, fTicks, fTickLabels);
txt(1043.6, 809, 't', 10, 'stray-character');
panelLetter(662, 809, 'F');
goPlot({name:'go-plot-panel-h', x0:931.8, kx:440, rowFirst:1233, rowLast:1496, labelX:910.5, tickY:1514.7, richX:1003, richY:1540.7, titleX:764, titleY:1205.5, rmin:1.0, rmax:6.4, nmax:15, pmax:0.111, cbX:1103, cbTop:1253, cbBot:1348, pvY:1239.6, cbLabels:['0.111','0.055','0'], cbLabelY:[1260,1301,1342.5], numY:1412.5, dotX:1115, dotY:[1430,1447.6,1469.4], sizeLegend:[1,7,15]}, hTerms, hRich, hCount, hP, hTicks, hTickLabels);
panelLetter(660, 1210, 'H');
</script>
</body></html>
